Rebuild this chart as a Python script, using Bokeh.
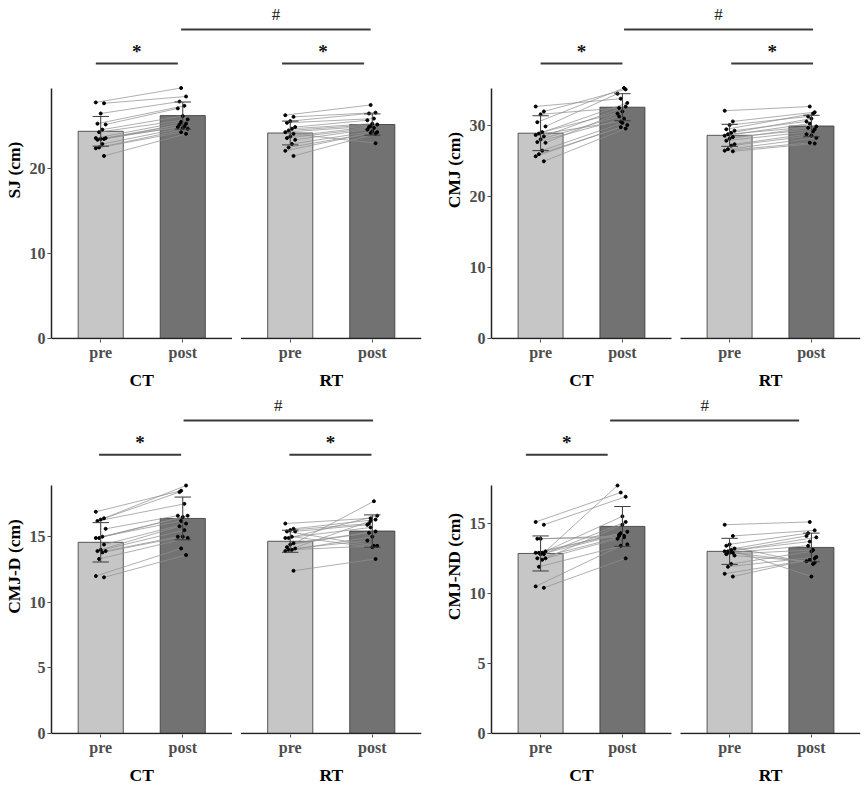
import numpy as np
from bokeh.plotting import figure
from bokeh.models import Range1d, LinearAxis, FixedTicker
from bokeh.layouts import gridplot
from bokeh.embed import file_html
from bokeh.resources import INLINE
from bokeh.core.properties import value

# ---------------- data ----------------
groups = ["CT", "RT"]
times = ["pre", "post"]

# SJ (cm)
sj_ticks = [0, 10, 20]
sj_ct_pre = [27.8, 27.7, 26.5, 25.3, 25.2, 24.6, 24.3, 23.6, 23.5, 23.5, 23.4, 23.6, 22.9, 22.5, 22.4, 21.5]
sj_ct_post = [29.5, 28.5, 27.9, 27.4, 27.1, 26.2, 25.8, 25.5, 25.3, 25.2, 25.0, 24.9, 24.8, 24.7, 24.3, 24.1]
sj_rt_pre = [26.3, 26.1, 25.6, 25.4, 24.9, 24.7, 24.5, 24.3, 24.1, 23.8, 23.6, 23.4, 22.9, 22.5, 22.1, 21.5]
sj_rt_post = [27.5, 26.6, 26.5, 25.9, 25.7, 25.3, 25.2, 25.0, 23.0, 24.9, 24.8, 24.6, 24.4, 24.3, 24.2, 24.1]
sj_mean = [24.4, 26.25, 24.2, 25.2]      # CT pre, CT post, RT pre, RT post
sj_sd = [1.75, 1.6, 1.4, 1.25]

# CMJ (cm)
cmj_ticks = [0, 10, 20, 30]
cmj_ct_pre = [32.6, 31.9, 31.5, 30.4, 29.8, 29.0, 28.8, 28.6, 28.4, 28.0, 27.6, 27.5, 26.4, 25.9, 25.6, 24.9]
cmj_ct_post = [33.7, 35.0, 32.4, 35.2, 34.4, 31.9, 33.1, 30.5, 32.6, 31.2, 30.9, 31.6, 30.3, 30.0, 29.7, 29.5]
cmj_rt_pre = [32.0, 30.5, 30.0, 29.4, 29.2, 28.9, 28.7, 28.5, 28.3, 28.1, 27.8, 27.3, 27.1, 26.6, 26.4, 26.3]
cmj_rt_post = [32.6, 31.8, 31.2, 31.6, 30.5, 30.9, 29.8, 30.2, 29.4, 29.6, 29.1, 28.7, 28.5, 28.2, 27.5, 27.4]
cmj_mean = [28.85, 32.5, 28.55, 29.86]
cmj_sd = [2.45, 1.9, 1.55, 1.5]

# CMJ-D (cm)
cmjd_ticks = [0, 5, 10, 15]
cmjd_ct_pre = [16.9, 16.4, 16.3, 16.2, 15.6, 15.0, 14.9, 14.9, 14.4, 14.0, 13.9, 13.9, 13.8, 13.3, 12.0, 11.9]
cmjd_ct_post = [18.5, 18.9, 18.4, 17.5, 16.6, 16.5, 16.6, 16.2, 16.0, 15.8, 15.5, 15.0, 15.0, 14.9, 14.1, 13.6]
cmjd_rt_pre = [16.0, 15.6, 15.5, 15.4, 15.4, 15.0, 14.9, 14.9, 14.5, 14.4, 14.2, 14.1, 14.0, 14.0, 13.9, 12.4]
cmjd_rt_post = [16.4, 16.3, 16.0, 14.3, 15.9, 14.2, 16.6, 15.7, 15.4, 15.3, 17.7, 14.7, 15.0, 14.3, 16.2, 13.3]
cmjd_mean = [14.57, 16.39, 14.65, 15.43]
cmjd_sd = [1.5, 1.63, 0.84, 1.23]

# CMJ-ND (cm)
cmjnd_ticks = [0, 5, 10, 15]
cmjnd_ct_pre = [15.1, 14.9, 13.9, 13.9, 13.0, 12.9, 12.9, 12.9, 12.8, 12.8, 12.5, 12.5, 12.4, 11.9, 10.5, 10.4]
cmjnd_ct_post = [17.2, 16.9, 14.1, 14.0, 17.7, 15.5, 14.4, 14.3, 15.1, 14.2, 14.1, 13.9, 14.9, 13.5, 13.4, 12.5]
cmjnd_rt_pre = [14.9, 14.1, 13.5, 13.4, 13.2, 13.1, 13.0, 13.0, 12.9, 12.9, 12.8, 12.7, 12.1, 11.9, 11.4, 11.2]
cmjnd_rt_post = [15.1, 14.5, 14.3, 12.1, 14.1, 11.2, 14.0, 13.7, 12.2, 13.4, 13.1, 12.3, 13.0, 12.6, 12.4, 12.5]
cmjnd_mean = [12.85, 14.78, 13.0, 13.28]
cmjnd_sd = [1.25, 1.42, 0.93, 1.02]

# significance marks: "*" = pre vs post within a group, "#" = group x time
sj_sig = ["CT", "RT", "#"]
cmj_sig = ["CT", "RT", "#"]
cmjd_sig = ["CT", "RT", "#"]
cmjnd_sig = ["CT", "#"]

panels = [
    dict(label="SJ (cm)", ticks=sj_ticks, mean=sj_mean, sd=sj_sd, sig=sj_sig,
         pts={("CT", "pre"): sj_ct_pre, ("CT", "post"): sj_ct_post,
              ("RT", "pre"): sj_rt_pre, ("RT", "post"): sj_rt_post},
         shift={"CT": -0.06, "RT": -0.1, "#": -0.02}),
    dict(label="CMJ (cm)", ticks=cmj_ticks, mean=cmj_mean, sd=cmj_sd, sig=cmj_sig,
         pts={("CT", "pre"): cmj_ct_pre, ("CT", "post"): cmj_ct_post,
              ("RT", "pre"): cmj_rt_pre, ("RT", "post"): cmj_rt_post},
         shift={"CT": 0.0, "RT": 0.02, "#": 0.02}),
    dict(label="CMJ-D (cm)", ticks=cmjd_ticks, mean=cmjd_mean, sd=cmjd_sd, sig=cmjd_sig,
         pts={("CT", "pre"): cmjd_ct_pre, ("CT", "post"): cmjd_ct_post,
              ("RT", "pre"): cmjd_rt_pre, ("RT", "post"): cmjd_rt_post},
         shift={"CT": -0.02, "RT": -0.01, "#": 0.01}),
    dict(label="CMJ-ND (cm)", ticks=cmjnd_ticks, mean=cmjnd_mean, sd=cmjnd_sd, sig=cmjnd_sig,
         pts={("CT", "pre"): cmjnd_ct_pre, ("CT", "post"): cmjnd_ct_post,
              ("RT", "pre"): cmjnd_rt_pre, ("RT", "post"): cmjnd_rt_post},
         shift={"CT": -0.18, "RT": 0.0, "#": -0.15}),
]

# ---------------- layout / style ----------------
FONT = "Liberation Serif"
GAP = 0.11
XPOS = {("CT", "pre"): 1.0, ("CT", "post"): 2.0,
        ("RT", "pre"): 3.2 + GAP, ("RT", "post"): 4.2 + GAP}
X_LO, X_HI = 0.4, 4.8 + GAP
FACET_X0 = [0.4, 2.6 + GAP]
FACET_X1 = [2.6, 4.8 + GAP]
GROUP_MID = [1.5, 3.7 + GAP]
BAR_W = 0.55
CAP_W = 0.2
FILL = {"pre": "#c6c6c6", "post": "#727272"}

# vertical geometry per row (px): span = pixels from y=0 to ymax, above = px from y=0 to frame top
ROWS = [
    dict(height=393, top=0, bottom=54, span=250.5, above=338.0,
         star_line=1.0978, star_text=1.1457, hash_line=1.2335, hash_text=1.2934),
    dict(height=395, top=5, bottom=54, span=248.0, above=335.0,
         star_line=1.1238, star_text=1.1734, hash_line=1.2621, hash_text=1.3226),
]
COLS = [dict(width=430, left=51, right=9), dict(width=435, left=61, right=5)]


def make_panel(spec, r, c):
    R, C = ROWS[r], COLS[c]
    allpts = [v for vals in spec["pts"].values() for v in vals]
    ymax = max(allpts)
    p = figure(width=C["width"], height=R["height"],
               x_range=Range1d(X_LO, X_HI),
               y_range=Range1d(-ymax / R["span"], ymax * R["above"] / R["span"]),
               x_axis_type=None, y_axis_type=None,
               output_backend="svg", toolbar_location=None,
               min_border_left=C["left"], min_border_right=C["right"],
               min_border_top=R["top"], min_border_bottom=R["bottom"])
    p.outline_line_color = None
    p.background_fill_color = "white"
    p.border_fill_color = "white"

    # y axis
    yax = LinearAxis(ticker=FixedTicker(ticks=spec["ticks"]), bounds=(0, ymax),
                     axis_label=spec["label"],
                     axis_label_text_font=FONT, axis_label_text_font_size="17.5px",
                     axis_label_text_font_style="bold", axis_label_text_color="black",
                     axis_label_standoff=3,
                     major_label_text_font=FONT, major_label_text_font_size="16px",
                     major_label_text_font_style="bold", major_label_text_color="#4d4d4d",
                     major_label_standoff=2,
                     major_tick_in=0, major_tick_out=4, major_tick_line_color="#4d4d4d",
                     minor_tick_line_color=None,
                     axis_line_color="#222222", axis_line_width=1.5)
    p.add_layout(yax, "left")

    # x axis: pre / post
    tx = [XPOS[(g, t)] for g in groups for t in times]
    xax = LinearAxis(ticker=FixedTicker(ticks=tx),
                     major_label_overrides={XPOS[(g, t)]: t for g in groups for t in times},
                     axis_line_color=None,
                     major_tick_in=0, major_tick_out=3, major_tick_line_color="#4d4d4d",
                     minor_tick_line_color=None,
                     major_label_standoff=1,
                     major_label_text_font=FONT, major_label_text_font_size="16px",
                     major_label_text_font_style="bold", major_label_text_color="#4d4d4d")
    p.add_layout(xax, "below")
    # facet strip labels: CT / RT
    gax = LinearAxis(ticker=FixedTicker(ticks=GROUP_MID),
                     major_label_overrides={m: g for m, g in zip(GROUP_MID, groups)},
                     axis_line_color=None, major_tick_line_color=None,
                     major_tick_in=0, major_tick_out=0, minor_tick_line_color=None,
                     major_label_standoff=6,
                     major_label_text_font=FONT, major_label_text_font_size="17.5px",
                     major_label_text_font_style="bold", major_label_text_color="black")
    p.add_layout(gax, "below")

    keys = [(g, t) for g in groups for t in times]
    xs = [XPOS[k] for k in keys]
    # bars
    p.vbar(x=xs, top=spec["mean"], bottom=0, width=BAR_W,
           fill_color=[FILL[k[1]] for k in keys], line_color="#333333", line_width=0.8)

    # individual paired lines + points
    for g in groups:
        pre = spec["pts"][(g, "pre")]
        post = spec["pts"][(g, "post")]
        n = len(pre)
        jp = [((i * 5) % 7 - 3) * 0.02 for i in range(n)]
        jq = [((i * 3 + 2) % 7 - 3) * 0.02 for i in range(n)]
        x0 = [XPOS[(g, "pre")] + j for j in jp]
        x1 = [XPOS[(g, "post")] + j for j in jq]
        p.segment(x0=x0, y0=pre, x1=x1, y1=post, line_color="#909090",
                  line_width=0.8, line_alpha=0.9)
        p.scatter(x=x0 + x1, y=list(pre) + list(post), size=3.0,
                  fill_color="black", line_color="black")

    # error bars (mean +/- SD)
    lo = [m - s for m, s in zip(spec["mean"], spec["sd"])]
    hi = [m + s for m, s in zip(spec["mean"], spec["sd"])]
    p.segment(x0=xs, y0=lo, x1=xs, y1=hi, line_color="#3a3a3a", line_width=1)
    p.segment(x0=[x - CAP_W / 2 for x in xs] * 2, y0=lo + hi,
              x1=[x + CAP_W / 2 for x in xs] * 2, y1=lo + hi,
              line_color="#3a3a3a", line_width=1)

    # facet baselines (x axis lines)
    p.segment(x0=FACET_X0, y0=[0, 0], x1=FACET_X1, y1=[0, 0],
              line_color="#222222", line_width=1.5)

    # significance annotations
    for s in spec["sig"]:
        sh = spec["shift"][s]
        if s == "#":
            a, b = XPOS[("CT", "post")] + sh, XPOS[("RT", "post")] + sh
            yl, yt = ymax * R["hash_line"], ymax * R["hash_text"]
            p.segment(x0=[a], y0=[yl], x1=[b], y1=[yl], line_color="#3a3a3a", line_width=2)
            p.text(x=[(a + b) / 2], y=[yt], text=["#"], text_font=value(FONT),
                   text_font_size="17px", text_color="#222222",
                   text_align="center", text_baseline="middle")
        else:
            a, b = XPOS[(s, "pre")] + sh, XPOS[(s, "post")] + sh
            yl, yt = ymax * R["star_line"], ymax * R["star_text"]
            p.segment(x0=[a], y0=[yl], x1=[b], y1=[yl], line_color="#3a3a3a", line_width=2)
            p.text(x=[(a + b) / 2], y=[yt], text=["*"], text_font=value(FONT),
                   text_font_size="19px", text_font_style="bold", text_color="#111111",
                   text_align="center", text_baseline="middle")
    return p


figs = [make_panel(panels[i], i // 2, i % 2) for i in range(4)]
grid = gridplot([[figs[0], figs[1]], [figs[2], figs[3]]], toolbar_location=None)

open("out.html", "w").write(file_html(grid, INLINE))
